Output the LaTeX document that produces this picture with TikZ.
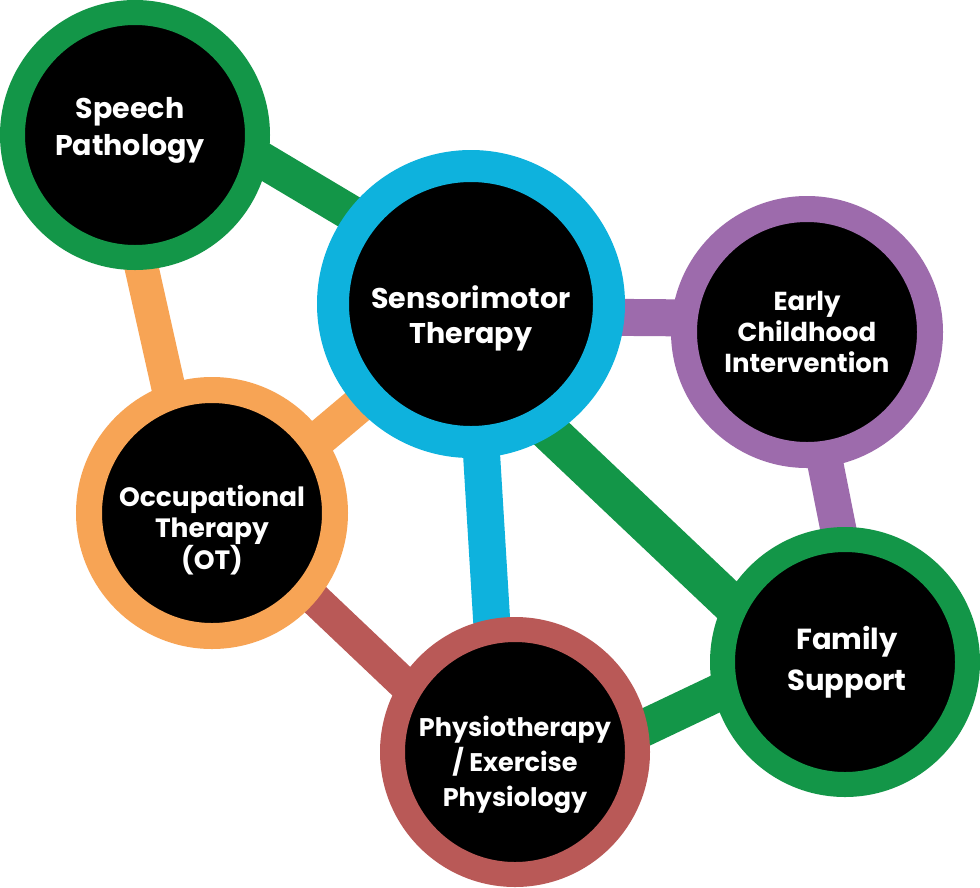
\documentclass[tikz,border=0pt]{standalone}
\usepackage{fontspec}
\setmainfont{Poppins}
\usetikzlibrary{backgrounds}

\definecolor{ringgreen}{HTML}{139648}
\definecolor{ringcyan}{HTML}{0EB2DD}
\definecolor{ringpurple}{HTML}{9D6BAC}
\definecolor{ringorange}{HTML}{F7A455}
\definecolor{ringred}{HTML}{B95957}

\tikzset{
  ring/.style={circle, draw=#1, fill=black, line width=25pt, minimum size=245pt, inner sep=0pt},
  link/.style={draw=#1, line width=36pt, shorten <=-30pt, shorten >=-30pt},
  lbl/.style={text=white, align=center, inner sep=0pt},
}

\begin{document}
\begin{tikzpicture}[x=1pt, y=-1pt]
\useasboundingbox (0,0) rectangle (980,887);

% the six services
\node[ring=ringgreen] (sp) at (135,135) {};
\node[ring=ringcyan, line width=32pt, minimum size=276pt] (sm) at (471,304) {};
\node[ring=ringpurple, line width=26pt, minimum size=246pt] (ec) at (807,332) {};
\node[ring=ringorange, line width=26pt, minimum size=246pt] (ot) at (212,513) {};
\node[ring=ringred] (ph) at (515,752) {};
\node[ring=ringgreen] (fs) at (845,662) {};

% labels
\node[lbl, font=\fontsize{28.5}{37}\selectfont\bfseries] (sp-t) at ([shift={(-5pt,5pt)}]sp.center) {Speech\\Pathology};
\node[lbl, font=\fontsize{28.5}{35}\selectfont\bfseries] (sm-t) at ([yshift=-14pt]sm.center) {Sensorimotor\\Therapy};
\node[lbl, font=\fontsize{26}{31}\selectfont\bfseries] (ec-t) at (ec.center) {Early\\Childhood\\Intervention};
\node[lbl, font=\fontsize{26.5}{31}\selectfont\bfseries] (ot-t) at ([yshift=-17pt]ot.center) {Occupational\\Therapy\\(OT)};
\node[lbl, font=\fontsize{25.5}{35}\selectfont\bfseries] (ph-t) at ([yshift=-13pt]ph.center) {Physiotherapy\\/ Exercise\\Physiology};
\node[lbl, font=\fontsize{29}{41}\selectfont\bfseries] (fs-t) at ([xshift=2pt]fs.center) {Family\\Support};

% links behind the rings
\begin{scope}[on background layer]
\fill[white] (0,0) rectangle (980,887);
\draw[link=ringgreen] (sp.-12) -- (sm.143);
\draw[link=ringorange, line width=34pt] (sp.-87) -- (ot.109);
\draw[link=ringpurple, line width=37pt] (sm.-5) -- (ec.174);
\draw[link=ringorange] (ot.35) -- (sm.-138);
\draw[link=ringcyan, line width=37pt] (sm.-86) -- (ph.100);
\draw[link=ringgreen, line width=40pt] (sm.-58) -- (fs.152);
\draw[link=ringpurple] (ec.-82) -- (fs.93);
\draw[link=ringred, line width=33pt] (ot.-40) -- (ph.148);
\draw[link=ringgreen, line width=37pt] (ph.11) -- (fs.-166);
\end{scope}
\end{tikzpicture}
\end{document}
